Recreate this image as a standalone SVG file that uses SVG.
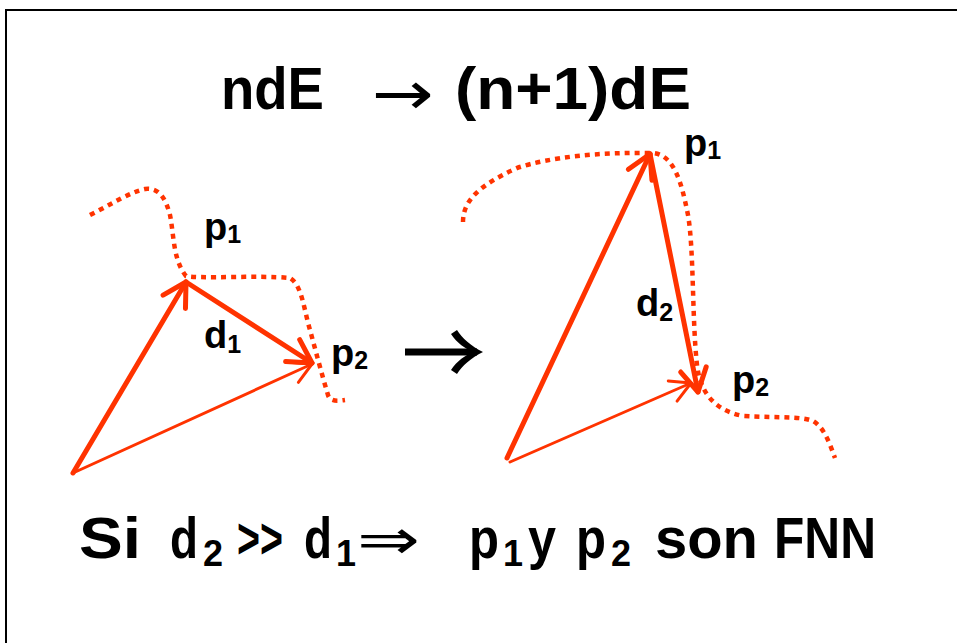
<svg xmlns="http://www.w3.org/2000/svg" width="957" height="643" viewBox="0 0 957 643">
<style>
.t{font-family:"Liberation Sans",Arial,sans-serif;font-weight:bold;fill:#000}
.title{font-size:60px}
.big{font-size:58px}
.sub{font-size:36px}
.lab{font-size:38px}
.lsub{font-size:25px}
.sym{font-family:"DejaVu Sans","Liberation Sans",sans-serif;font-weight:normal;fill:#000}
.dot{fill:none;stroke:#FF3300;stroke-width:4.5;stroke-dasharray:5 5}
.thick{fill:none;stroke:#FF3300;stroke-width:5;stroke-linecap:round}
.thin{fill:none;stroke:#FF3300;stroke-width:3;stroke-linecap:round}
</style>
<defs>
<marker id="hThick" markerUnits="userSpaceOnUse" viewBox="-26 -16 30 32" markerWidth="30" markerHeight="32" refX="0" refY="0" orient="auto">
<path d="M-23,-13 L0,0 L-23,13" fill="none" stroke="#FF3300" stroke-width="5" stroke-linecap="round" stroke-linejoin="round"/>
</marker>
<marker id="hThin" markerUnits="userSpaceOnUse" viewBox="-24 -14 28 28" markerWidth="28" markerHeight="28" refX="0" refY="0" orient="auto">
<path d="M-20,-11 L0,0 L-20,11" fill="none" stroke="#FF3300" stroke-width="3" stroke-linecap="round" stroke-linejoin="round"/>
</marker>
</defs>
<rect x="0" y="0" width="957" height="643" fill="#fff"/>
<rect x="6" y="10" width="980" height="660" fill="none" stroke="#000" stroke-width="2"/>

<g id="title">
<text class="t title" x="221" y="109" textLength="103" lengthAdjust="spacingAndGlyphs">ndE</text>
<text class="sym" x="372" y="114" font-size="60" textLength="62" lengthAdjust="spacingAndGlyphs">→</text>
<text class="t title" x="455" y="109" textLength="236" lengthAdjust="spacingAndGlyphs">(n+1)dE</text>
</g>

<g id="left-curve">
<path class="dot" d="M90,215 C110,205 130,192 145,189 C160,187 166,200 170,215 C174,235 173,260 186,276 C200,279 260,275 290,278 C302,285 304,310 310,330 C316,352 322,375 328,395 C330,402 338,401 345,400"/>
</g>
<g id="right-curve">
<path class="dot" d="M463,222 C463,200 480,185 517,168 C550,157 600,152 653,153 C675,155 682,185 688,215 C694,250 692,320 697,365 C700,390 712,410 743,416 C780,418 800,416 813,421 C825,428 830,445 835,458"/>
</g>

<g id="connectors">
<line class="thick" x1="73" y1="473" x2="186" y2="282" marker-end="url(#hThick)"/>
<line class="thick" x1="186" y1="282" x2="312" y2="363" marker-end="url(#hThick)"/>
<line class="thin" x1="73" y1="473" x2="312" y2="364" marker-end="url(#hThin)"/>
<line class="thick" x1="507" y1="458" x2="650" y2="154" marker-end="url(#hThick)"/>
<line class="thick" x1="650" y1="154" x2="698" y2="392" marker-end="url(#hThick)"/>
<line class="thin" x1="510" y1="462" x2="691" y2="383" marker-end="url(#hThin)"/>
</g>

<g id="mid-arrow">
<rect x="405" y="348.5" width="72" height="7" fill="#000"/>
<path d="M483,352 C471,346 462,338 457,330 L451,334 C457,343 465,349 474,352 C465,355 457,361 451,370 L457,374 C462,366 471,358 483,352 Z" fill="#000"/>
</g>

<g id="left-labels">
<text class="t lab" x="204" y="240">p<tspan class="lsub" dy="3">1</tspan></text>
<text class="t lab" x="204" y="348">d<tspan class="lsub" dy="5">1</tspan></text>
<text class="t lab" x="331" y="366">p<tspan class="lsub" dy="3">2</tspan></text>
</g>
<g id="right-labels">
<text class="t lab" x="684" y="156">p<tspan class="lsub" dy="3">1</tspan></text>
<text class="t lab" x="636" y="316">d<tspan class="lsub" dy="5">2</tspan></text>
<text class="t lab" x="732" y="393">p<tspan class="lsub" dy="3">2</tspan></text>
</g>

<g id="conclusion">
<text class="t big" x="170" y="558" textLength="28" lengthAdjust="spacingAndGlyphs">d</text>
<text class="t big" x="79" y="558" textLength="62" lengthAdjust="spacingAndGlyphs">Si</text>
<text class="t sub" x="203" y="566">2</text>
<text class="t big" x="237" y="558" textLength="46" lengthAdjust="spacingAndGlyphs">&gt;&gt;</text>
<text class="t big" x="304" y="558" textLength="28" lengthAdjust="spacingAndGlyphs">d</text>
<text class="t sub" x="336" y="566">1</text>
<text class="sym" x="357" y="559" font-size="56" textLength="63" lengthAdjust="spacingAndGlyphs">⇒</text>
<text class="t big" x="469" y="558" textLength="30" lengthAdjust="spacingAndGlyphs">p</text>
<text class="t sub" x="503" y="566">1</text>
<text class="t big" x="528" y="558" textLength="28" lengthAdjust="spacingAndGlyphs">y</text>
<text class="t big" x="576" y="558" textLength="30" lengthAdjust="spacingAndGlyphs">p</text>
<text class="t sub" x="611" y="566">2</text>
<text class="t big" x="655" y="558" textLength="103" lengthAdjust="spacingAndGlyphs">son</text>
<text class="t big" x="774" y="558" textLength="102" lengthAdjust="spacingAndGlyphs">FNN</text>
</g>
</svg>
